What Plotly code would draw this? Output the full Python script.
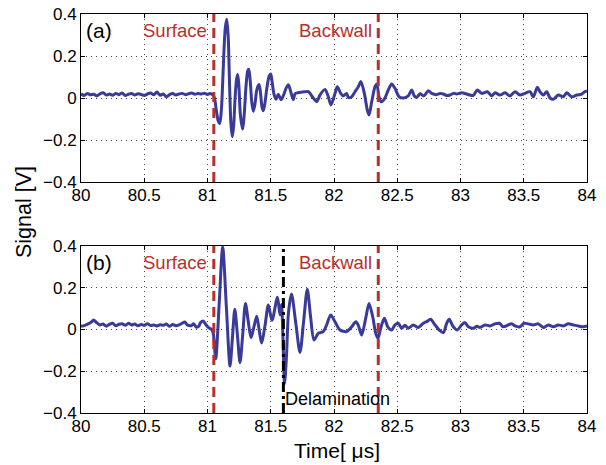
import plotly.graph_objects as go

# ---------------- data ----------------
time_a = [80.00, 80.025, 80.05, 80.075, 80.10, 80.125, 80.15, 80.175, 80.20, 80.225,
          80.25, 80.275, 80.30, 80.325, 80.35, 80.375, 80.40, 80.425, 80.45, 80.475,
          80.50, 80.525, 80.55, 80.575, 80.60, 80.625, 80.65, 80.675, 80.70, 80.725,
          80.75, 80.775, 80.80, 80.825, 80.85, 80.875, 80.90, 80.925, 80.95, 80.975,
          81.00, 81.02, 81.04, 81.055,
          81.07, 81.085, 81.095, 81.105, 81.115, 81.125, 81.14, 81.152, 81.163, 81.175,
          81.185, 81.196, 81.207, 81.218, 81.23, 81.239, 81.248, 81.26, 81.278, 81.29,
          81.305, 81.318, 81.326, 81.338, 81.35, 81.362, 81.375, 81.39, 81.407, 81.418,
          81.43, 81.441, 81.455, 81.47, 81.488, 81.500, 81.51, 81.525, 81.542, 81.56,
          81.581, 81.60, 81.62, 81.639, 81.658, 81.678,
          81.692, 81.715, 81.745, 81.771, 81.797, 81.836, 81.863, 81.889, 81.929, 81.955,
          81.976, 82.008, 82.026, 82.053, 82.074, 82.100, 82.113, 82.140, 82.166, 82.192,
          82.213, 82.240, 82.263, 82.277, 82.298, 82.324, 82.338, 82.356, 82.372, 82.398,
          82.429, 82.456, 82.482, 82.514, 82.548, 82.587, 82.614, 82.635,
          82.654, 82.680, 82.711, 82.745, 82.772, 82.812, 82.840, 82.864, 82.890, 82.917,
          82.945, 82.970, 83.009, 83.049, 83.075, 83.101, 83.133, 83.168, 83.212, 83.247,
          83.273, 83.312, 83.352, 83.391, 83.431, 83.470, 83.510, 83.549, 83.576, 83.607,
          83.628, 83.655, 83.681, 83.708, 83.734, 83.773, 83.813, 83.840, 83.879, 83.919,
          83.958, 83.984, 84.00]
signal_a = [0.020, 0.012, 0.022, 0.015, 0.018, 0.010, 0.020, 0.025, 0.014, 0.019,
            0.013, 0.022, 0.016, 0.024, 0.012, 0.018, 0.021, 0.014, 0.020, 0.017,
            0.012, 0.019, 0.024, 0.015, 0.028, 0.013, 0.019, 0.006, 0.016, 0.021,
            0.014, 0.019, 0.022, 0.016, 0.020, 0.024, 0.018, 0.021, 0.019, 0.023,
            0.017, 0.022, 0.016, 0.000,
            -0.060, -0.110, -0.122, -0.090, 0.000, 0.150, 0.330, 0.375, 0.300, 0.050,
            -0.120, -0.185, -0.130, 0.000, 0.090, 0.112, 0.060, -0.080, -0.148, -0.080,
            0.060, 0.130, 0.137, 0.080, -0.020, -0.063, -0.030, 0.040, 0.064, 0.030,
            -0.040, -0.061, -0.020, 0.050, 0.105, 0.114, 0.080, 0.020, -0.006, 0.018,
            -0.008, 0.012, 0.045, 0.063, 0.030, -0.008,
            0.020, 0.025, 0.028, 0.030, 0.030, 0.000, -0.018, 0.014, 0.041, 0.006,
            -0.033, 0.022, 0.054, 0.022, 0.010, 0.022, 0.003, 0.006, 0.030, 0.054,
            0.078, 0.022, -0.057, -0.081, -0.018, 0.054, 0.067, 0.006, -0.018, -0.005,
            0.038, 0.067, 0.046, 0.006, 0.000, 0.010, 0.038, 0.010,
            0.003, 0.020, 0.010, 0.035, 0.022, 0.016, 0.022, 0.019, 0.012, 0.014,
            0.022, 0.019, 0.025, 0.019, 0.014, 0.012, 0.038, 0.022, 0.030, 0.010,
            0.025, 0.014, 0.025, 0.010, 0.030, 0.014, 0.022, 0.030, 0.006, 0.051,
            0.030, 0.014, 0.030, 0.000, -0.006, 0.014, 0.006, 0.025, 0.006, 0.014,
            0.019, 0.030, 0.033]

time_b = [80.00, 80.03, 80.06, 80.08, 80.10, 80.12, 80.15, 80.175, 80.20, 80.225,
          80.25, 80.275, 80.30, 80.325, 80.35, 80.375, 80.40, 80.425, 80.45, 80.475,
          80.50, 80.525, 80.55, 80.575, 80.60, 80.625, 80.65, 80.675, 80.70, 80.725,
          80.75, 80.775, 80.80, 80.82, 80.84, 80.87, 80.89, 80.91, 80.93, 80.945,
          80.967, 80.985, 81.006, 81.033, 81.046,
          81.065, 81.093, 81.12, 81.149, 81.178, 81.197, 81.216, 81.237, 81.257, 81.279,
          81.300, 81.322, 81.344, 81.366, 81.389, 81.408, 81.428, 81.455, 81.481, 81.510,
          81.553, 81.573, 81.585, 81.597, 81.609, 81.625, 81.640, 81.664, 81.698, 81.731,
          81.760, 81.789, 81.815, 81.842, 81.876, 81.915, 81.942, 81.974, 82.008, 82.047,
          82.100, 82.140, 82.172, 82.192, 82.219, 82.253, 82.277, 82.306, 82.330, 82.348,
          82.369, 82.398, 82.425, 82.456, 82.482, 82.508, 82.535, 82.561, 82.587, 82.627,
          82.666, 82.706, 82.733, 82.764, 82.798, 82.838, 82.864, 82.891, 82.911, 82.943,
          82.975, 83.009, 83.036, 83.062, 83.101, 83.130, 83.154, 83.194, 83.233, 83.273,
          83.307, 83.338, 83.378, 83.405, 83.431, 83.470, 83.502, 83.536, 83.576, 83.615,
          83.655, 83.694, 83.734, 83.773, 83.813, 83.852, 83.891, 83.931, 83.970, 84.00]
signal_b = [0.015, 0.020, 0.028, 0.035, 0.045, 0.035, 0.022, 0.026, 0.016, 0.025,
            0.030, 0.018, 0.025, 0.028, 0.020, 0.030, 0.022, 0.026, 0.018, 0.024,
            0.020, 0.028, 0.019, 0.022, 0.017, 0.023, 0.020, 0.026, 0.015, 0.024,
            0.018, 0.022, 0.030, 0.036, 0.022, 0.018, 0.028, 0.012, 0.015, 0.033,
            0.040, 0.025, 0.010, 0.000, -0.020,
            -0.140, 0.130, 0.395, 0.110, -0.175, -0.040, 0.097, -0.030, -0.159, -0.020,
            0.125, 0.040, -0.040, 0.010, 0.063, 0.000, -0.065, 0.020, 0.117, 0.044,
            0.155, 0.070, 0.120, -0.050, -0.260, -0.120, 0.080, 0.170, 0.030, -0.110,
            0.040, 0.193, 0.060, -0.050, -0.018, -0.010, 0.022, 0.070, 0.037, -0.002,
            -0.010, 0.013, 0.037, 0.020, -0.026, 0.061, 0.125, 0.061, -0.018, -0.042,
            0.006, 0.054, 0.013, -0.002, 0.022, 0.030, 0.006, 0.020, 0.006, 0.022,
            0.010, 0.030, 0.038, 0.049, 0.022, -0.006, -0.015, 0.030, 0.049, 0.013,
            -0.002, 0.022, 0.033, 0.013, 0.006, 0.015, 0.010, 0.022, 0.017, 0.027,
            0.030, 0.013, 0.022, 0.028, 0.017, 0.013, 0.030, 0.027, 0.022, 0.027,
            0.010, 0.022, 0.013, 0.022, 0.017, 0.027, 0.022, 0.017, 0.013, 0.017]

surface_t = 81.05
backwall_t = 82.35
delamination_t = 81.60

x_ticks = [80, 80.5, 81, 81.5, 82, 82.5, 83, 83.5, 84]
y_ticks = [-0.4, -0.2, 0, 0.2, 0.4]

# ---------------- styles ----------------
FONT = "Liberation Sans, Arial, Helvetica, sans-serif"
LINE_COLOR = "#3a3a99"
RED = "#b8302c"
W, H = 606, 465

def px_x(p):
    return p / W

def px_y(p):
    return 1 - p / H

fig = go.Figure()
fig.add_trace(go.Scatter(x=time_a, y=signal_a, mode="lines", xaxis="x", yaxis="y",
                         line=dict(color=LINE_COLOR, width=3, shape="spline", smoothing=0.8),
                         showlegend=False, hoverinfo="skip"))
fig.add_trace(go.Scatter(x=time_b, y=signal_b, mode="lines", xaxis="x2", yaxis="y2",
                         line=dict(color=LINE_COLOR, width=3, shape="spline", smoothing=0.8),
                         showlegend=False, hoverinfo="skip"))

axis_common = dict(
    showline=True, linecolor="black", linewidth=1, mirror="ticks",
    ticks="inside", ticklen=4, tickcolor="black", tickwidth=1,
    showgrid=True, gridcolor="#444444", gridwidth=1, griddash="1px,4px",
    zeroline=False, automargin=False,
    tickfont=dict(family=FONT, size=17, color="black"),
)
xdom = [px_x(81), px_x(587)]
fig.update_layout(
    width=W, height=H, margin=dict(l=0, r=0, t=0, b=0),
    paper_bgcolor="white", plot_bgcolor="white",
    xaxis=dict(domain=xdom, range=[80, 84], tickvals=x_ticks, anchor="y",
               ticklabelstandoff=-2, **axis_common),
    yaxis=dict(domain=[px_y(182), px_y(14)], range=[-0.4, 0.4], tickvals=y_ticks,
               anchor="x", **axis_common),
    xaxis2=dict(domain=xdom, range=[80, 84], tickvals=x_ticks, anchor="y2",
                ticklabelstandoff=-2, **axis_common),
    yaxis2=dict(domain=[px_y(413), px_y(246)], range=[-0.4, 0.4], tickvals=y_ticks,
                anchor="x2", **axis_common),
)

# vertical marker lines
for xr, yr in (("x", "y domain"), ("x2", "y2 domain")):
    for t in (surface_t, backwall_t):
        fig.add_shape(type="line", xref=xr, yref=yr, x0=t, x1=t, y0=0, y1=1,
                      line=dict(color=RED, width=3, dash="10px,6px"))
fig.add_shape(type="line", xref="x2", yref="y2 domain", x0=delamination_t, x1=delamination_t,
              y0=0, y1=1, line=dict(color="black", width=3, dash="10px,4px,3px,4px"))

# annotations
def ann(text, x, y, xref, yref, size, color="black", xanchor="center", yanchor="middle", angle=0):
    fig.add_annotation(text=text, x=x, y=y, xref=xref, yref=yref, showarrow=False,
                       font=dict(family=FONT, size=size, color=color),
                       xanchor=xanchor, yanchor=yanchor, textangle=angle)

for xr, yr, lab in (("x", "y", "(a)"), ("x2", "y2", "(b)")):
    ann(lab, 80.02, 0.32, xr, yr, 21, xanchor="left")
    ann("Surface", surface_t - 0.035, 0.32, xr, yr, 18.5, RED, xanchor="right")
    ann("Backwall", backwall_t - 0.035, 0.32, xr, yr, 18.5, RED, xanchor="right")
ann("Delamination", delamination_t + 0.0, -0.335, "x2", "y2", 18, xanchor="left")

ann("Signal [V]", px_x(24), px_y(212), "paper", "paper", 21.5, angle=-90)
ann("Time[ μs]", px_x(337), px_y(450), "paper", "paper", 21)

fig.write_html("out.html", config={"displayModeBar": False},
               post_script=["document.body.style.margin='0';"])
